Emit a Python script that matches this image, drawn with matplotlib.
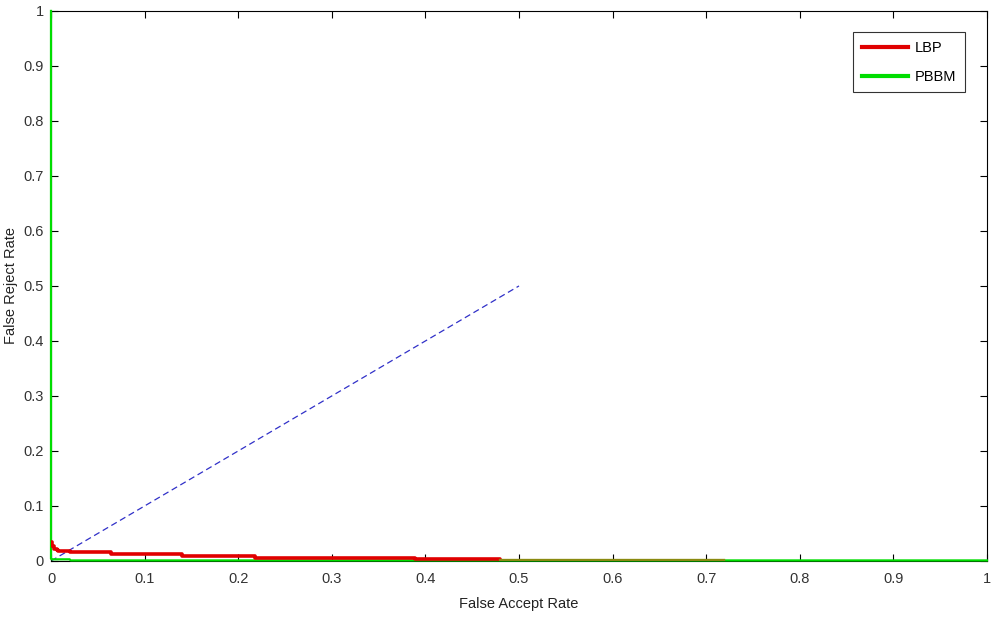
import matplotlib
matplotlib.use("Agg")
import matplotlib.pyplot as plt
import numpy as np

plt.rcParams['font.family'] = ['Liberation Sans', 'DejaVu Sans']

# LBP curve (False Accept Rate, False Reject Rate), step-wise
lbp_far = [0.0, 0.001, 0.003, 0.006, 0.008, 0.02, 0.064, 0.106, 0.14, 0.218, 0.389, 0.48, 0.718]
lbp_frr = [0.034, 0.027, 0.022, 0.020, 0.019, 0.016, 0.013, 0.012, 0.009, 0.0055, 0.004, 0.002, 0.002]

# PBBM curve
pbbm_far = [0.0, 0.0, 0.001, 0.02, 0.021, 1.0]
pbbm_frr = [1.0, 0.004, 0.003, 0.003, 0.001, 0.001]

# diagonal reference (EER line)
eer_x = [0.0, 0.5]
eer_y = [0.0, 0.5]

ticks = [0, 0.1, 0.2, 0.3, 0.4, 0.5, 0.6, 0.7, 0.8, 0.9, 1]
tick_labels = ['0', '0.1', '0.2', '0.3', '0.4', '0.5', '0.6', '0.7', '0.8', '0.9', '1']

fig = plt.figure(figsize=(10, 6.17), dpi=100)
ax = fig.add_axes([0.051, 0.0908, 0.936, 0.8915])

ax.plot(eer_x, eer_y, linestyle='--', color='#3030c8', linewidth=0.9, dashes=(5, 3))
ax.plot(pbbm_far, pbbm_frr, color='#00dd00', linewidth=1.6, label='PBBM',
        clip_on=False, zorder=3)
# red part of LBP (up to where it meets PBBM)
ax.plot(lbp_far[:-1], lbp_frr[:-1], color='#e00000', linewidth=2.6, drawstyle='steps-post',
        label='LBP', zorder=4)
# where LBP and PBBM overlap, the blended (olive) colour shows
ax.plot(lbp_far[-2:], lbp_frr[-2:], color='#8a8a10', linewidth=2.4, zorder=5)

ax.set_xlim(0, 1)
ax.set_ylim(0, 1)
ax.set_xticks(ticks)
ax.set_xticklabels(tick_labels)
ax.set_yticks(ticks)
ax.set_yticklabels(tick_labels)
ax.tick_params(direction='in', top=True, right=True, length=5, width=0.8,
               labelsize=10.5, colors='black', labelcolor='#333333')
ax.tick_params(axis='x', pad=8)
ax.tick_params(axis='y', pad=5)
for s in ax.spines.values():
    s.set_linewidth(0.8)
    s.set_color('black')
    s.set_zorder(2.5)

ax.set_xlabel('False Accept Rate', fontsize=10.5, color='#222222', labelpad=8)
ax.set_ylabel('False Reject Rate', fontsize=10.5, color='#222222', labelpad=4)

handles, labels = ax.get_legend_handles_labels()
order = [labels.index('LBP'), labels.index('PBBM')]
leg = ax.legend([handles[i] for i in order], [labels[i] for i in order],
                loc='upper right', bbox_to_anchor=(0.976, 0.961), fontsize=10.5,
                frameon=True, fancybox=False, edgecolor='black', handlelength=3.2,
                borderpad=0.6, labelspacing=1.0, handletextpad=0.4, borderaxespad=0)
leg.get_frame().set_linewidth(0.8)
for line in leg.get_lines():
    line.set_linewidth(3)

fig.savefig('out.png', dpi=100)
